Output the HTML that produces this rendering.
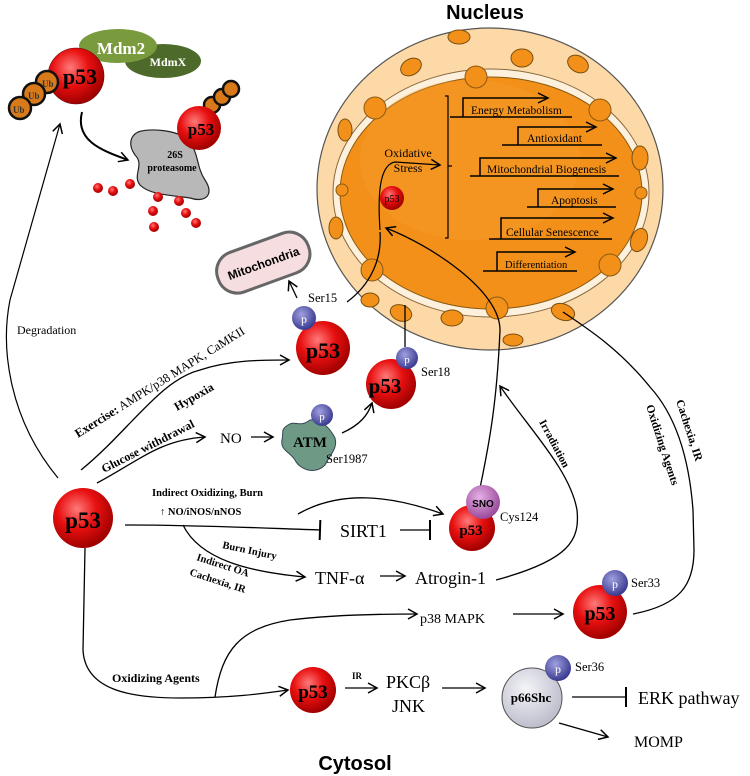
<!DOCTYPE html>
<html><head><meta charset="utf-8"><style>
html,body{margin:0;padding:0;background:#fff}
svg{display:block}
.s{font-family:"Liberation Serif",serif}
.b{font-weight:bold}
</style></head><body>
<svg width="750" height="776" viewBox="0 0 750 776" xmlns="http://www.w3.org/2000/svg">
<defs>
<radialGradient id="red" cx="0.4" cy="0.35" r="0.65"><stop offset="0" stop-color="#ff7a7a"/><stop offset="0.5" stop-color="#e81010"/><stop offset="1" stop-color="#a00000"/></radialGradient>
<radialGradient id="pur" cx="0.4" cy="0.35" r="0.65"><stop offset="0" stop-color="#a0a0e0"/><stop offset="1" stop-color="#3a3a90"/></radialGradient>
<radialGradient id="sno" cx="0.4" cy="0.35" r="0.65"><stop offset="0" stop-color="#e6b0e6"/><stop offset="1" stop-color="#9a4a9a"/></radialGradient>
<radialGradient id="gry" cx="0.4" cy="0.35" r="0.7"><stop offset="0" stop-color="#f4f4f8"/><stop offset="1" stop-color="#b8bac8"/></radialGradient>
<marker id="a" markerWidth="12" markerHeight="12" refX="10" refY="6" orient="auto" markerUnits="userSpaceOnUse"><path d="M1,1 L10,6 L1,11" fill="none" stroke="#000" stroke-width="1.5"/></marker>
<marker id="t" markerWidth="4" markerHeight="20" refX="2" refY="10" orient="auto" markerUnits="userSpaceOnUse"><path d="M2,0 L2,20" stroke="#000" stroke-width="2"/></marker>
</defs>

<!-- Nucleus -->
<text x="485" y="19" font-family="Liberation Sans" font-weight="bold" font-size="20" text-anchor="middle">Nucleus</text>
<ellipse cx="490" cy="189" rx="173" ry="161" fill="#fcd9a6" stroke="#555" stroke-width="1.2"/>
<ellipse cx="491" cy="193" rx="158" ry="124" fill="#fdf0dc" stroke="#8a6a40" stroke-width="1"/>
<ellipse cx="491" cy="193" rx="151" ry="116" fill="#f39019" stroke="#8a5a10" stroke-width="1"/>
<ellipse cx="470" cy="160" rx="110" ry="80" fill="#f7a030" opacity="0.35"/>
<g fill="#f39019" stroke="#8a5a10" stroke-width="1">
<circle cx="375" cy="108" r="11"/><circle cx="476" cy="77" r="11"/><circle cx="600" cy="110" r="11"/>
<circle cx="372" cy="270" r="11"/><circle cx="497" cy="308" r="11"/><circle cx="610" cy="265" r="11"/>
<circle cx="342" cy="190" r="6"/><circle cx="641" cy="193" r="6"/>
</g>
<g fill="#f39019" stroke="#7a5010" stroke-width="1">
<ellipse cx="459" cy="37" rx="11" ry="7"/><ellipse cx="411" cy="67" rx="11" ry="8" transform="rotate(-30 411 67)"/>
<ellipse cx="522" cy="58" rx="11" ry="9"/><ellipse cx="578" cy="64" rx="11" ry="8" transform="rotate(30 578 64)"/>
<ellipse cx="345" cy="130" rx="7" ry="11"/><ellipse cx="640" cy="158" rx="8" ry="12"/>
<ellipse cx="336" cy="228" rx="7" ry="11"/><ellipse cx="639" cy="240" rx="8" ry="12" transform="rotate(20 639 240)"/>
<ellipse cx="401" cy="313" rx="11" ry="8" transform="rotate(20 401 313)"/><ellipse cx="452" cy="318" rx="11" ry="8"/>
<ellipse cx="513" cy="340" rx="10" ry="6"/><ellipse cx="563" cy="312" rx="12" ry="8" transform="rotate(20 563 312)"/>
<ellipse cx="370" cy="300" rx="9" ry="7"/>
</g>
<!-- bracket -->
<path d="M445,96 L448,96 L448,166 L452,166 M448,166 L448,238 L445,238" fill="none" stroke="#000" stroke-width="1.2"/>
<text class="s" x="408" y="157" font-size="12" text-anchor="middle">Oxidative</text>
<text class="s" x="408" y="172" font-size="12" text-anchor="middle">Stress</text>
<path d="M380,230 C378,200 378,165 395,162 L440,165" fill="none" stroke="#000" stroke-width="1.2" marker-end="url(#a)"/>
<circle cx="392" cy="198" r="12" fill="url(#red)"/>
<text class="s" x="392" y="202" font-size="10" text-anchor="middle">p53</text>
<g fill="none" stroke="#000" stroke-width="1.5">
<path d="M450,117 L572,117 M463,117 L463,98 L548,98"/>
<path d="M502,145 L602,145 M518,145 L518,127 L596,127"/>
<path d="M470,176 L619,176 M480,176 L480,158 L616,158"/>
<path d="M527,207 L616,207 M538,207 L538,189 L613,189"/>
<path d="M489,239 L612,239 M501,239 L501,218 L613,218"/>
<path d="M483,271 L577,271 M497,271 L497,252 L575,252"/>
</g>
<g fill="none" stroke="#000" stroke-width="1.5">
<path d="M538,93 L548,98 L538,103"/><path d="M586,122 L596,127 L586,132"/><path d="M606,153 L616,158 L606,163"/>
<path d="M603,184 L613,189 L603,194"/><path d="M603,213 L613,218 L603,223"/><path d="M565,247 L575,252 L565,257"/>
</g>
<g class="s" font-size="11.5">
<text x="471" y="114">Energy Metabolism</text><text x="527" y="142">Antioxidant</text>
<text x="487" y="173">Mitochondrial Biogenesis</text><text x="551" y="204">Apoptosis</text>
<text x="506" y="236">Cellular Senescence</text><text x="505" y="268" font-size="10.5">Differentiation</text>
</g>

<!-- top-left degradation -->
<ellipse cx="163" cy="61" rx="38" ry="17" fill="#4e6a2a"/>
<ellipse cx="118" cy="46" rx="39" ry="17" fill="#7a9a3e"/>
<text class="s b" x="121" y="54" font-size="17" fill="#fff" text-anchor="middle">Mdm2</text>
<text class="s b" x="168" y="66" font-size="12" fill="#fff" text-anchor="middle">MdmX</text>
<circle cx="76" cy="76" r="28" fill="url(#red)" stroke="#600" stroke-width="0.6"/>
<g fill="#d87a1a" stroke="#111" stroke-width="2.5">
<circle cx="47" cy="82" r="11"/><circle cx="34" cy="94" r="11"/><circle cx="20" cy="108" r="11"/>
</g>
<g class="s b" font-size="9" fill="#333"><text x="42" y="87">Ub</text><text x="28" y="99">Ub</text><text x="13" y="113">Ub</text></g>
<text class="s b" x="80" y="84" font-size="22" text-anchor="middle">p53</text>
<path d="M82,112 C75,140 100,150 128,160" fill="none" stroke="#000" stroke-width="2" marker-end="url(#a)"/>
<path d="M138,132 C150,128 175,130 185,138 C200,150 195,165 205,180 C215,195 205,203 190,198 C170,195 150,195 140,185 C132,175 145,165 135,155 C128,145 130,136 138,132Z" fill="#b8b8b8" stroke="#222" stroke-width="1.2"/>
<text class="s b" x="175" y="158" font-size="10" text-anchor="middle">26S</text>
<text class="s b" x="172" y="171" font-size="10" text-anchor="middle">proteasome</text>
<g fill="#d87a1a" stroke="#111" stroke-width="2.5">
<circle cx="212" cy="105" r="8"/><circle cx="222" cy="97" r="8"/><circle cx="231" cy="89" r="8"/>
</g>
<circle cx="199" cy="128" r="22" fill="url(#red)"/>
<text class="s b" x="201" y="135" font-size="17" text-anchor="middle">p53</text>
<g fill="url(#red)">
<circle cx="98" cy="188" r="5"/><circle cx="113" cy="191" r="5"/><circle cx="130" cy="184" r="5"/>
<circle cx="158" cy="197" r="5"/><circle cx="179" cy="201" r="5"/><circle cx="153" cy="211" r="5"/>
<circle cx="186" cy="213" r="5"/><circle cx="154" cy="227" r="5"/><circle cx="196" cy="223" r="5"/>
</g>

<!-- mitochondria -->
<g transform="rotate(-20 262 262)">
<rect x="215" y="242" width="96" height="42" rx="20" fill="#f5dde0" stroke="#666" stroke-width="3"/>
<text x="263" y="268" font-family="Liberation Sans" font-weight="bold" font-size="12" text-anchor="middle">Mitochondria</text>
</g>
<path d="M297,298 L289,281" stroke="#000" stroke-width="1.3" marker-end="url(#a)"/>

<!-- Degradation line -->
<path d="M58,478 C10,420 0,350 10,300 L60,124" fill="none" stroke="#000" stroke-width="1.2" marker-end="url(#a)"/>
<text class="s" x="17" y="334" font-size="12">Degradation</text>

<!-- Ser15 p53 -->
<circle cx="323" cy="348" r="27" fill="url(#red)"/>
<text class="s b" x="323" y="358" font-size="22" text-anchor="middle">p53</text>
<circle cx="304" cy="318" r="12" fill="url(#pur)"/>
<text class="s" x="304" y="323" font-size="12" fill="#fff" text-anchor="middle">p</text>
<text class="s" x="308" y="302" font-size="12.5">Ser15</text>
<path d="M347,302 C370,285 382,260 380,232" fill="none" stroke="#000" stroke-width="1.3"/>

<!-- Exercise / hypoxia / glucose -->
<path d="M81,470 C130,430 160,380 200,370 C230,360 260,360 289,360" fill="none" stroke="#000" stroke-width="1.3" marker-end="url(#a)"/>
<text class="s" font-size="12.5" transform="translate(78,438) rotate(-32)"><tspan font-weight="bold">Exercise:</tspan> AMPK/p38 MAPK, CaMKII</text>
<text class="s b" font-size="12" transform="translate(177,411) rotate(-30)">Hypoxia</text>
<text class="s b" font-size="12" transform="translate(104,473) rotate(-27)">Glucose withdrawal</text>
<path d="M97,483 C140,460 160,440 205,437" fill="none" stroke="#000" stroke-width="1.3" marker-end="url(#a)"/>
<text class="s" x="220" y="443" font-size="15">NO</text>
<path d="M251,437 L273,437" stroke="#000" stroke-width="1.3" marker-end="url(#a)"/>
<path d="M288,425 C295,420 300,428 310,420 C320,418 330,428 335,438 C338,448 330,455 325,465 C315,475 300,470 295,460 C290,452 280,450 282,440 C284,432 280,430 288,425Z" fill="#6e9a85" stroke="#345" stroke-width="1"/>
<text class="s b" x="310" y="447" font-size="15" text-anchor="middle">ATM</text>
<circle cx="322" cy="415" r="11" fill="url(#pur)"/>
<text class="s" x="322" y="420" font-size="11" fill="#fff" text-anchor="middle">p</text>
<text class="s" x="326" y="463" font-size="12.5">Ser1987</text>
<path d="M342,433 C360,425 368,415 372,403" fill="none" stroke="#000" stroke-width="1.3" marker-end="url(#a)"/>

<!-- Ser18 -->
<circle cx="391" cy="384" r="25" fill="url(#red)"/>
<text class="s b" x="385" y="393" font-size="21" text-anchor="middle">p53</text>
<circle cx="407" cy="358" r="11" fill="url(#pur)"/>
<text class="s" x="407" y="363" font-size="11" fill="#fff" text-anchor="middle">p</text>
<text class="s" x="421" y="376" font-size="12.5">Ser18</text>
<path d="M405,347 L405,305" stroke="#000" stroke-width="1.3"/>

<!-- main p53 -->
<circle cx="83" cy="518" r="30" fill="url(#red)"/>
<text class="s b" x="83" y="528" font-size="23" text-anchor="middle">p53</text>
<text class="s b" x="152" y="496" font-size="10.5">Indirect Oxidizing, Burn</text>
<text class="s b" x="160" y="515" font-size="10.5">↑ NO/iNOS/nNOS</text>
<path d="M125,525 C200,525 260,528 320,530" fill="none" stroke="#000" stroke-width="1.3" marker-end="url(#t)"/>
<text class="s" x="340" y="537" font-size="18">SIRT1</text>
<path d="M400,530 L430,530" stroke="#000" stroke-width="1.3" marker-end="url(#t)"/>
<path d="M298,514 C340,490 390,495 443,514" fill="none" stroke="#000" stroke-width="1.3" marker-end="url(#a)"/>
<path d="M183,525 C200,560 250,572 305,577" fill="none" stroke="#000" stroke-width="1.3" marker-end="url(#a)"/>
<text class="s b" font-size="10.5" transform="translate(222,548) rotate(12)">Burn Injury</text>
<text class="s b" font-size="10.5" transform="translate(196,560) rotate(18)">Indirect OA</text>
<text class="s b" font-size="10.5" transform="translate(189,575) rotate(18)">Cachexia, IR</text>
<text class="s" x="315" y="584" font-size="18">TNF-α</text>
<path d="M380,576 L405,576" stroke="#000" stroke-width="1.3" marker-end="url(#a)"/>
<text class="s" x="415" y="584" font-size="18">Atrogin-1</text>

<!-- SNO p53 -->
<path d="M480,488 C490,440 497,400 500,330 C500,290 430,245 386,228" fill="none" stroke="#000" stroke-width="1.3" marker-end="url(#a)"/>
<path d="M496,580 C570,560 580,540 577,510 C570,470 530,430 500,386" fill="none" stroke="#000" stroke-width="1.3" marker-end="url(#a)"/>
<text class="s b" font-size="11" transform="translate(539,422) rotate(62)">Irradiation</text>
<circle cx="472" cy="528" r="23" fill="url(#red)"/>
<text class="s b" x="471" y="535" font-size="15" text-anchor="middle">p53</text>
<circle cx="483" cy="502" r="17" fill="url(#sno)"/>
<text x="483" y="507" font-family="Liberation Sans" font-weight="bold" font-size="10" text-anchor="middle">SNO</text>
<text class="s" x="500" y="521" font-size="12.5">Cys124</text>

<!-- Ser33 -->
<path d="M633,614 C680,605 694,585 694,550 L693,510 C690,470 680,420 650,387 C620,350 590,330 563,312" fill="none" stroke="#000" stroke-width="1.3"/>
<text class="s b" font-size="11.5" transform="translate(676,401) rotate(72)">Cachexia, IR</text>
<text class="s b" font-size="11.5" transform="translate(646,406) rotate(72)">Oxidizing Agents</text>
<circle cx="600" cy="612" r="27" fill="url(#red)"/>
<text class="s b" x="600" y="620" font-size="20" text-anchor="middle">p53</text>
<circle cx="615" cy="583" r="13" fill="url(#pur)"/>
<text class="s" x="615" y="588" font-size="12" fill="#fff" text-anchor="middle">p</text>
<text class="s" x="631" y="587" font-size="12.5">Ser33</text>

<!-- p38 -->
<path d="M215,697 C222,650 240,628 290,620 C330,615 380,614 417,614" fill="none" stroke="#000" stroke-width="1.3" marker-end="url(#a)"/>
<text class="s" x="420" y="623" font-size="14">p38 MAPK</text>
<path d="M513,614 L563,614" stroke="#000" stroke-width="1.3" marker-end="url(#a)"/>

<!-- bottom -->
<path d="M85,548 L83,650 C85,690 130,698 180,698 C230,698 260,694 288,690" fill="none" stroke="#000" stroke-width="1.3" marker-end="url(#a)"/>
<text class="s b" x="112" y="682" font-size="12">Oxidizing Agents</text>
<circle cx="313" cy="690" r="23" fill="url(#red)"/>
<text class="s b" x="313" y="698" font-size="19" text-anchor="middle">p53</text>
<path d="M345,688 L377,688" stroke="#000" stroke-width="1.3" marker-end="url(#a)"/>
<text class="s b" x="352" y="679" font-size="9">IR</text>
<text class="s" x="386" y="688" font-size="18">PKCβ</text>
<text class="s" x="392" y="712" font-size="18">JNK</text>
<path d="M442,688 L485,688" stroke="#000" stroke-width="1.3" marker-end="url(#a)"/>
<circle cx="532" cy="698" r="30" fill="url(#gry)" stroke="#555" stroke-width="1"/>
<text class="s b" x="531" y="702" font-size="13" text-anchor="middle">p66Shc</text>
<circle cx="558" cy="668" r="13" fill="url(#pur)"/>
<text class="s" x="558" y="673" font-size="12" fill="#fff" text-anchor="middle">p</text>
<text class="s" x="575" y="671" font-size="12.5">Ser36</text>
<path d="M572,697 L626,697" stroke="#000" stroke-width="1.3" marker-end="url(#t)"/>
<text class="s" x="638" y="704" font-size="18">ERK pathway</text>
<path d="M559,723 L608,737" stroke="#000" stroke-width="1.3" marker-end="url(#a)"/>
<text class="s" x="634" y="747" font-size="16">MOMP</text>
<text x="355" y="770" font-family="Liberation Sans" font-weight="bold" font-size="20" text-anchor="middle">Cytosol</text>
</svg>
</body></html>
